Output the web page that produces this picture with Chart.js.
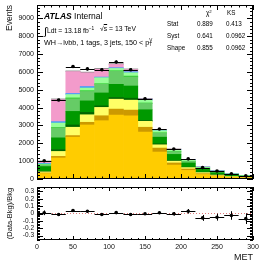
<!DOCTYPE html>
<html><head><meta charset="utf-8">
<script src="https://cdn.jsdelivr.net/npm/chart.js@4/dist/chart.umd.min.js"></script>
<style>
html,body{margin:0;padding:0;background:#fff;width:259px;height:263px;overflow:hidden;font-family:"Liberation Sans",Arial,sans-serif}
canvas{position:absolute;left:0}
#main{top:0}
#ratio{top:183px}
.t{position:absolute;white-space:nowrap;color:#000;line-height:1}
</style></head><body>
<canvas id="main" width="259" height="183"></canvas>
<canvas id="ratio" width="259" height="80"></canvas>

<div class="t" style="left:44px;top:12px;font-size:8.5px;"><b style="font-style:italic">ATLAS</b>&nbsp;Internal</div>
<div class="t" style="left:44px;top:24px;font-size:6.8px;"><span style="font-size:11px;position:relative;top:2px">∫</span>Ldt = 13.18 fb<span style="font-size:4.8px;position:relative;top:-3px">−1</span></div>
<div class="t" style="left:100px;top:26px;font-size:6.8px;">√<span style="text-decoration:overline">s</span> = 13 TeV</div>
<div class="t" style="left:44px;top:39px;font-size:7.2px;">WH→lνbb, 1 tags, 3 jets, 150 &lt; p<span style="display:inline-block;vertical-align:middle;font-size:4.6px;line-height:0.9;text-align:left"><span style="display:block">V</span><span style="display:block">T</span></span></div>

<div class="t" style="left:206px;top:10px;font-size:6.3px;">χ<span style="font-size:4.3px;position:relative;top:-2px">2</span></div>
<div class="t" style="left:227px;top:10px;font-size:6.3px;">KS</div>
<div class="t" style="left:167px;top:21px;font-size:6.3px;">Stat</div>
<div class="t" style="left:197px;top:21px;font-size:6.3px;">0.889</div>
<div class="t" style="left:226px;top:21px;font-size:6.3px;">0.413</div>
<div class="t" style="left:167px;top:33px;font-size:6.3px;">Syst</div>
<div class="t" style="left:197px;top:33px;font-size:6.3px;">0.641</div>
<div class="t" style="left:226px;top:33px;font-size:6.3px;">0.0962</div>
<div class="t" style="left:167px;top:45px;font-size:6.3px;">Shape</div>
<div class="t" style="left:197px;top:45px;font-size:6.3px;">0.855</div>
<div class="t" style="left:226px;top:45px;font-size:6.3px;">0.0962</div>

<script>
// ---- data ----
const binCenters = [10, 30, 50, 70, 90, 110, 130, 150, 170, 190, 210, 230, 250, 270, 290];
const binHalfWidth = [10, 10, 10, 10, 10, 10, 10, 10, 10, 10, 10, 10, 10, 10, 10];

const ttbar    = [306, 1178, 2344, 3028, 3267, 3583, 3544, 2630, 1511, 780, 480, 250, 150, 90, 60];
const stopDark = [34, 89, 89, 150, 277, 334, 317, 270, 222, 120, 80, 50, 30, 20, 10];
const stopLight= [60, 277, 467, 422, 467, 555, 556, 330, 184, 100, 80, 60, 40, 30, 20];
const wbb      = [30, 106, 128, 133, 89, 95, 111, 50, 55, 40, 20, 20, 15, 10, 10];
const wbc      = [270, 656, 761, 645, 722, 739, 683, 600, 372, 340, 240, 160, 115, 80, 50];
const wbl      = [70, 555, 700, 522, 484, 722, 500, 350, 223, 140, 80, 60, 50, 30, 20];
const wcc      = [20, 29, 55, 50, 34, 39, 56, 30, 23, 20, 15, 10, 8, 6, 5];
const wcl      = [50, 249, 189, 150, 338, 127, 189, 160, 121, 90, 55, 40, 32, 19, 15];
const zjets    = [38, 72, 56, 78, 33, 39, 55, 50, 29, 30, 30, 20, 20, 10, 6];
const multijet = [112, 1229, 1231, 772, 439, 187, 119, 10, 10, 10, 5, 2, 2, 2, 2];
const diboson  = [20, 50, 40, 40, 50, 50, 40, 40, 20, 20, 15, 8, 8, 3, 2];

const dataValues = [1020, 4430, 6300, 6170, 6120, 6560, 6120, 4500, 2800, 1685, 1130, 640, 445, 292, 186];
const dataErr    = [32, 67, 79, 79, 78, 81, 78, 67, 53, 41, 34, 25, 21, 17, 14];

const ratioValues = [0.01, -0.013, 0.04, 0.03, -0.013, 0.012, -0.013, -0.004, 0.01, -0.004, 0.03, -0.06, -0.05, -0.027, -0.07];
const ratioErr    = [0.032, 0.015, 0.013, 0.013, 0.013, 0.012, 0.013, 0.015, 0.019, 0.024, 0.031, 0.04, 0.047, 0.058, 0.073];

const mainYTicks  = [0, 1000, 2000, 3000, 4000, 5000, 6000, 7000, 8000, 9000];
const ratioYTicks = [-0.3, -0.2, -0.1, 0, 0.1, 0.2, 0.3];
const xTicks      = [0, 50, 100, 150, 200, 250, 300];

const FONT = '"Liberation Sans", Arial, sans-serif';

const components = [
  {label: 'ttbar',     values: ttbar,     color: '#FFCC00'},
  {label: 'stop Wt',   values: stopDark,  color: '#CC9900'},
  {label: 'stop t',    values: stopLight, color: '#FFFF66'},
  {label: 'W+bb',      values: wbb,       color: '#006600'},
  {label: 'W+bc',      values: wbc,       color: '#009900'},
  {label: 'W+bl',      values: wbl,       color: '#66CC66'},
  {label: 'W+cc',      values: wcc,       color: '#33CC33'},
  {label: 'W+cl',      values: wcl,       color: '#99FF99'},
  {label: 'Z+jets',    values: zjets,     color: '#3399FF'},
  {label: 'Multijet',  values: multijet,  color: '#F39BCB'},
  {label: 'Diboson',   values: diboson,   color: '#8F8F8F'}
];

// ---- ROOT-like frame with inner ticks ----
const rootFrame = {
  id: 'rootFrame',
  afterDatasetsDraw(chart, args, o) {
    const {ctx, chartArea: a} = chart;
    const xs = chart.scales.x, ys = chart.scales.y;
    ctx.save();
    ctx.strokeStyle = '#000';
    ctx.lineWidth = 1;
    ctx.beginPath();
    const nx = Math.round((o.xMax - o.xMin) / o.xMinor);
    for (let i = 0; i <= nx; i++) {
      const v = o.xMin + i * o.xMinor;
      const px = Math.round(xs.getPixelForValue(v)) + 0.5;
      const major = (i % Math.round(o.xMajor / o.xMinor)) === 0;
      const L = major ? o.xLen : o.xLen / 2;
      ctx.moveTo(px, a.bottom); ctx.lineTo(px, a.bottom - L);
      ctx.moveTo(px, a.top); ctx.lineTo(px, a.top + L);
    }
    const ny = Math.round((o.yHi - o.yLo) / o.yMinor);
    for (let i = 0; i <= ny; i++) {
      const v = o.yLo + i * o.yMinor;
      if (v < ys.min - 1e-9 || v > ys.max + 1e-9) continue;
      const py = Math.round(ys.getPixelForValue(v)) + 0.5;
      const major = (i % Math.round(o.yMajor / o.yMinor)) === 0;
      const L = major ? o.yLen : o.yLen / 2;
      ctx.moveTo(a.left, py); ctx.lineTo(a.left + L, py);
      ctx.moveTo(a.right, py); ctx.lineTo(a.right - L, py);
    }
    ctx.stroke();
    ctx.strokeRect(Math.round(a.left) + 0.5, Math.round(a.top) + 0.5,
                   Math.round(a.right - a.left) - 1, Math.round(a.bottom - a.top) - 1);
    ctx.restore();
  }
};

// ---- error bars for the data dataset ----
const errorBars = {
  id: 'errorBars',
  afterDatasetsDraw(chart) {
    const {ctx} = chart;
    const xs = chart.scales.x, ys = chart.scales.y;
    chart.data.datasets.forEach((ds) => {
      if (!ds.errY) return;
      ctx.save();
      ctx.strokeStyle = '#000';
      ctx.lineWidth = 1;
      ctx.beginPath();
      ds.data.forEach((p, i) => {
        const cy = Math.round(ys.getPixelForValue(p.y)) + 0.5;
        const x0 = xs.getPixelForValue(p.x - ds.errX[i]);
        const x1 = xs.getPixelForValue(p.x + ds.errX[i]);
        const cx = Math.round(xs.getPixelForValue(p.x)) + 0.5;
        ctx.moveTo(x0, cy); ctx.lineTo(x1, cy);
        ctx.moveTo(cx, ys.getPixelForValue(p.y - ds.errY[i]));
        ctx.lineTo(cx, ys.getPixelForValue(p.y + ds.errY[i]));
      });
      ctx.stroke();
      ctx.restore();
    });
  }
};

// ---- main stacked chart ----
const barDatasets = components.map(c => ({
  type: 'bar',
  label: c.label,
  data: c.values.map((v, i) => ({x: binCenters[i], y: v})),
  backgroundColor: c.color,
  borderWidth: 0,
  barPercentage: 1,
  categoryPercentage: 1,
  stack: 'mc'
}));

new Chart(document.getElementById('main'), {
  type: 'bar',
  data: {
    datasets: [...barDatasets, {
      type: 'line',
      label: 'Data',
      stack: 'data',
      order: -1,
      data: dataValues.map((v, i) => ({x: binCenters[i], y: v})),
      errX: binHalfWidth,
      errY: dataErr,
      showLine: false,
      pointRadius: 1.8,
      pointBackgroundColor: '#000',
      pointBorderWidth: 0
    }]
  },
  options: {
    responsive: false,
    animation: false,
    devicePixelRatio: 1,
    layout: {padding: {left: 0, right: 6, top: 5, bottom: 2}},
    plugins: {
      legend: {display: false},
      tooltip: {enabled: false},
      rootFrame: {xMin: 0, xMax: 300, xMinor: 10, xMajor: 50, xLen: 5,
                  yLo: 0, yHi: 9800, yMinor: 200, yMajor: 1000, yLen: 6}
    },
    scales: {
      x: {type: 'linear', min: 0, max: 300, stacked: true, display: false, offset: false,
          ticks: {stepSize: 20}},
      y: {
        stacked: true, min: 0, max: 9750,
        grid: {display: false, drawTicks: false},
        border: {display: false},
        ticks: {autoSkip: false, color: '#111', font: {family: FONT, size: 7}, padding: 3,
                callback: v => String(v)},
        afterBuildTicks: s => { s.ticks = mainYTicks.map(v => ({value: v})); },
        title: {display: true, text: 'Events', align: 'end', color: '#111',
                font: {family: FONT, size: 8.5}, padding: {top: 5, bottom: 0}},
        afterFit: s => { s.width = 37; s.paddingTop = 0; s.paddingBottom = 0; }
      }
    }
  },
  plugins: [rootFrame, errorBars]
});

// ---- ratio chart ----
new Chart(document.getElementById('ratio'), {
  type: 'line',
  data: {
    datasets: [{
      label: 'zero',
      data: [{x: 0, y: 0}, {x: 300, y: 0}],
      borderColor: '#E07A7A',
      borderWidth: 1,
      borderDash: [1, 2],
      pointRadius: 0
    }, {
      label: 'ratio',
      order: -1,
      data: ratioValues.map((v, i) => ({x: binCenters[i], y: v})),
      errX: binHalfWidth,
      errY: ratioErr,
      showLine: false,
      pointRadius: 1.8,
      pointBackgroundColor: '#000',
      pointBorderWidth: 0
    }]
  },
  options: {
    responsive: false,
    animation: false,
    devicePixelRatio: 1,
    layout: {padding: {left: 0, right: 6, top: 3, bottom: 0}},
    plugins: {
      legend: {display: false},
      tooltip: {enabled: false},
      rootFrame: {xMin: 0, xMax: 300, xMinor: 10, xMajor: 50, xLen: 4,
                  yLo: -0.4, yHi: 0.4, yMinor: 0.02, yMajor: 0.1, yLen: 6}
    },
    scales: {
      x: {
        type: 'linear', min: 0, max: 300, offset: false,
        grid: {display: false, drawTicks: false},
        border: {display: false},
        ticks: {autoSkip: false, maxRotation: 0, color: '#111',
                font: {family: FONT, size: 7}, padding: 3, callback: v => String(v)},
        afterBuildTicks: s => { s.ticks = xTicks.map(v => ({value: v})); },
        title: {display: true, text: 'MET', align: 'end', color: '#111',
                font: {family: FONT, size: 9}, padding: {top: 0, bottom: 0}},
        afterFit: s => { s.height = 23; s.paddingLeft = 0; s.paddingRight = 0; }
      },
      y: {
        min: -0.36, max: 0.36,
        grid: {display: false, drawTicks: false},
        border: {display: false},
        ticks: {autoSkip: false, color: '#111', font: {family: FONT, size: 6.5}, padding: 3,
                callback: v => String(Math.round(v * 10) / 10)},
        afterBuildTicks: s => { s.ticks = ratioYTicks.map(v => ({value: v})); },
        title: {display: true, text: '(Data-Bkg)/Bkg', align: 'center', color: '#111',
                font: {family: FONT, size: 7.5}, padding: {top: 5, bottom: 0}},
        afterFit: s => { s.width = 37; s.paddingTop = 0; s.paddingBottom = 0; }
      }
    }
  },
  plugins: [rootFrame, errorBars]
});
</script>
</body></html>
